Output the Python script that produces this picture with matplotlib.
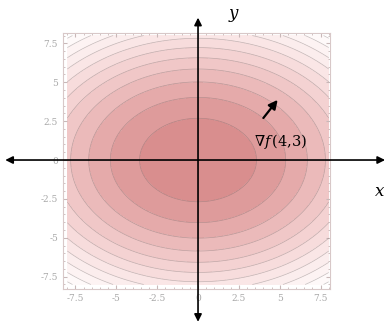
import numpy as np
import matplotlib as mpl
import matplotlib.pyplot as plt
from matplotlib.colors import LinearSegmentedColormap

# f(x, y) = x^2/16 + y^2/9 on [-8, 8] x [-8, 8]
x_range = [-8, 8]
y_range = [-8, 8]
a_sq = 16.0
b_sq = 9.0
levels = [0.0, 0.8, 1.8, 2.8, 3.8, 4.8, 5.8, 6.8, 7.8, 8.8, 9.8, 10.8, 11.2]
tick_vals = [-7.5, -5, -2.5, 0, 2.5, 5, 7.5]
tick_labels = ['-7.5', '-5', '-2.5', '0', '2.5', '5', '7.5']
point = (4, 3)

mpl.rcParams['mathtext.fontset'] = 'dejavuserif'

fig = plt.figure(figsize=(3.86, 3.24), dpi=100)
ax = fig.add_axes([0.163, 0.108, 0.692, 0.790])

xs = np.linspace(x_range[0], x_range[1], 400)
ys = np.linspace(y_range[0], y_range[1], 400)
X, Y = np.meshgrid(xs, ys)
Z = X**2 / a_sq + Y**2 / b_sq

cmap = LinearSegmentedColormap.from_list(
    'pinks', [(0, '#d68888'), (0.35, '#efc3c3'), (0.65, '#fae6e6'), (1, '#ffffff')])
ax.contourf(X, Y, Z, levels=levels, cmap=cmap)
ax.contour(X, Y, Z, levels=levels[1:-1], colors='#6e6060', linewidths=0.5, alpha=0.4)

ax.set_xlim(-8.27, 8.08)
ax.set_ylim(-8.29, 8.16)

# frame + ticks, mathematica style
for s in ax.spines.values():
    s.set_color('#d8c8c8')
    s.set_linewidth(0.8)
ax.set_xticks(tick_vals)
ax.set_xticklabels(tick_labels)
ax.set_yticks(tick_vals)
ax.set_yticklabels(tick_labels)
ax.xaxis.set_minor_locator(mpl.ticker.MultipleLocator(0.5))
ax.yaxis.set_minor_locator(mpl.ticker.MultipleLocator(0.5))
ax.tick_params(which='both', direction='in', color='#c8b8b8', labelcolor='#a8a8a8',
               labelsize=6.5, top=True, right=True)
ax.tick_params(which='major', length=3)
ax.tick_params(which='minor', length=1.5)
for lab in ax.get_xticklabels() + ax.get_yticklabels():
    lab.set_family('DejaVu Serif')

# big coordinate axes with arrows
ax.annotate('', xy=(11.45, 0), xytext=(-11.8, 0), annotation_clip=False,
            arrowprops=dict(arrowstyle='<|-|>', color='black', lw=1.2, mutation_scale=11,
                            shrinkA=0, shrinkB=0))
ax.annotate('', xy=(0, 9.15), xytext=(0, -10.4), annotation_clip=False,
            arrowprops=dict(arrowstyle='<|-|>', color='black', lw=1.2, mutation_scale=11,
                            shrinkA=0, shrinkB=0))
ax.text(2.15, 9.4, 'y', fontsize=12, style='italic', family='DejaVu Serif',
        ha='center', va='center', clip_on=False)
ax.text(11.1, -2.05, 'x', fontsize=12, style='italic', family='DejaVu Serif',
        ha='center', va='center', clip_on=False)

# gradient at (4,3), drawn a little below the point like the original
gx = 2 * point[0] / a_sq
gy = 2 * point[1] / b_sq
scale = 1.75
base = (point[0], point[1] - 0.3)
ax.annotate('', xy=(base[0] + scale * gx, base[1] + scale * gy), xytext=base,
            arrowprops=dict(arrowstyle='-|>', color='black', lw=1.6, mutation_scale=13,
                            shrinkA=0, shrinkB=0))
ax.text(5.08, 1.16, r'$\nabla f\,(4{,}3)$', fontsize=10.5, ha='center', va='center')

plt.savefig('out.png', dpi=100)
